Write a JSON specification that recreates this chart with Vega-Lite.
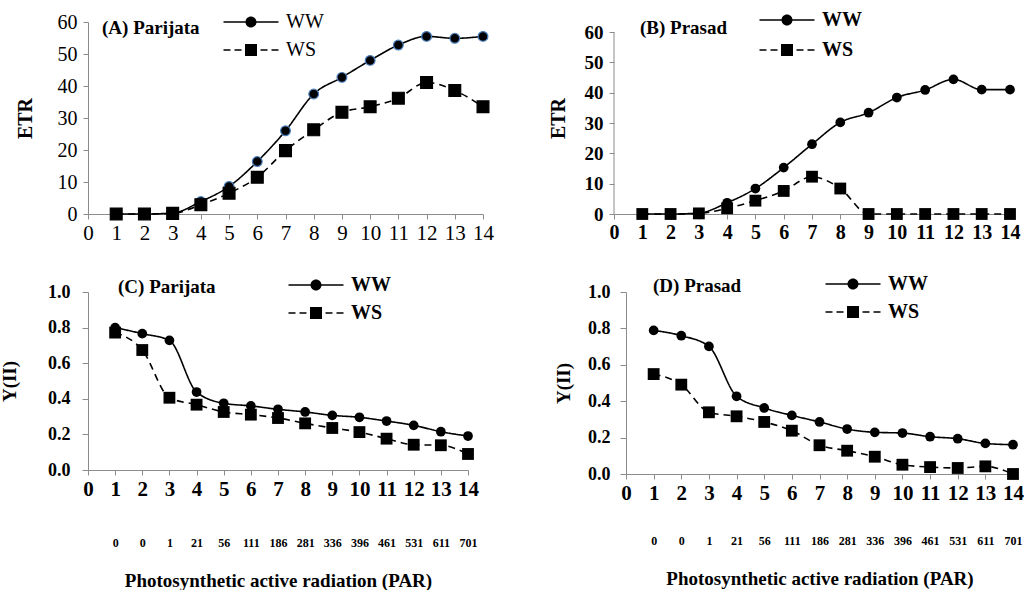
{
  "$schema": "https://vega.github.io/schema/vega-lite/v6.json",
  "background": "white",
  "padding": {"left": 0, "top": 10, "right": 0, "bottom": 0},
  "config": {
    "view": {"stroke": null},
    "font": "Liberation Serif",
    "axis": {"grid": false, "domainColor": "#8c8c8c", "tickColor": "#8c8c8c", "labelColor": "black", "titleColor": "black", "labelFont": "Liberation Serif", "titleFont": "Liberation Serif", "labelOverlap": false, "labelFlush": false, "labelBound": false},
    "legend": {"labelFont": "Liberation Serif", "labelColor": "black", "symbolSize": 100, "labelOffset": 25, "rowPadding": 8, "padding": 0, "symbolOpacity": 1, "symbolFillColor": "black", "symbolStrokeWidth": 0, "title": null},
    "title": {"font": "Liberation Serif", "color": "black"}
  },
  "spacing": 31,
  "resolve": {"scale": {"shape": "independent"}, "legend": {"shape": "independent"}},
  "vconcat": [
    {
      "spacing": 49,
      "resolve": {"scale": {"shape": "independent"}, "legend": {"shape": "independent"}},
      "hconcat": [
        {
          "width": 395, "height": 192,
          "title": {"text": "(A) Parijata", "anchor": "start", "orient": "top", "frame": "group", "offset": -26, "dx": 14, "fontSize": 19, "fontWeight": "bold"},
          "data": {"values": [
            {"s": "WW", "i": 1, "v": 0}, {"s": "WW", "i": 2, "v": 0}, {"s": "WW", "i": 3, "v": 0.3}, {"s": "WW", "i": 4, "v": 3.9}, {"s": "WW", "i": 5, "v": 8.6}, {"s": "WW", "i": 6, "v": 16.4}, {"s": "WW", "i": 7, "v": 26}, {"s": "WW", "i": 8, "v": 37.5}, {"s": "WW", "i": 9, "v": 42.7}, {"s": "WW", "i": 10, "v": 48}, {"s": "WW", "i": 11, "v": 52.8}, {"s": "WW", "i": 12, "v": 55.5}, {"s": "WW", "i": 13, "v": 54.9}, {"s": "WW", "i": 14, "v": 55.5},
            {"s": "WS", "i": 1, "v": 0}, {"s": "WS", "i": 2, "v": 0}, {"s": "WS", "i": 3, "v": 0.2}, {"s": "WS", "i": 4, "v": 2.9}, {"s": "WS", "i": 5, "v": 6.5}, {"s": "WS", "i": 6, "v": 11.5}, {"s": "WS", "i": 7, "v": 19.8}, {"s": "WS", "i": 8, "v": 26.3}, {"s": "WS", "i": 9, "v": 31.8}, {"s": "WS", "i": 10, "v": 33.5}, {"s": "WS", "i": 11, "v": 36.2}, {"s": "WS", "i": 12, "v": 41.1}, {"s": "WS", "i": 13, "v": 38.6}, {"s": "WS", "i": 14, "v": 33.5}
          ]},
          "resolve": {"axis": {"x": "independent", "y": "independent"}},
          "layer": [
            {
              "mark": {"type": "line", "color": "black", "strokeWidth": 1.6, "interpolate": "monotone"},
              "encoding": {
                "x": {"field": "i", "type": "quantitative", "scale": {"domain": [0, 14], "nice": false}, "axis": {"values": [0,1,2,3,4,5,6,7,8,9,10,11,12,13,14], "labelFontSize": 21, "labelFontWeight": "normal", "tickSize": 5, "labelPadding": 3, "title": null}},
                "y": {"field": "v", "type": "quantitative", "scale": {"domain": [0, 60], "nice": false}, "axis": {"values": [0,10,20,30,40,50,60], "labelFontSize": 20, "labelFontWeight": "normal", "tickSize": 5, "labelPadding": 6, "title": "ETR", "titleFontSize": 20, "titleFontWeight": "bold", "titlePadding": 22}},
                "detail": {"field": "s", "type": "nominal"},
                "strokeDash": {"condition": {"test": "datum.s === 'WS'", "value": [7, 5]}, "value": [1, 0]}
              }
            },
            {
              "mark": {"type": "point", "filled": true, "opacity": 1, "color": "black", "strokeWidth": 1.2},
              "encoding": {
                "x": {"field": "i", "type": "quantitative", "axis": null},
                "y": {"field": "v", "type": "quantitative", "axis": null},
                "shape": {"condition": {"test": "datum.s === 'WW'", "value": "circle"}, "value": "square"},
                "size": {"condition": {"test": "datum.s === 'WW'", "value": 95}, "value": 140},
                "stroke": {"condition": {"test": "datum.s === 'WW'", "value": "#4a7ebb"}, "value": "black"}
              }
            },
            {
              "mark": {"type": "point", "filled": true, "opacity": 0, "color": "black"},
              "encoding": {
                "x": {"field": "i", "type": "quantitative", "axis": null},
                "y": {"field": "v", "type": "quantitative", "axis": null},
                "shape": {"field": "s", "type": "nominal", "scale": {"domain": ["WW", "WS"], "range": ["M-5.5,-0.15 L5.5,-0.15 L5.5,0.15 L-5.5,0.15 Z M1.1,0 A1.1,1.1 0 1,1 -1.1,0 A1.1,1.1 0 1,1 1.1,0 Z", "M-5.5,-0.15 L-4.1,-0.15 L-4.1,0.15 L-5.5,0.15 Z M-3.3,-0.15 L-1.9,-0.15 L-1.9,0.15 L-3.3,0.15 Z M-1.2,-1.2 L1.2,-1.2 L1.2,1.2 L-1.2,1.2 Z M1.9,-0.15 L3.3,-0.15 L3.3,0.15 L1.9,0.15 Z M4.1,-0.15 L5.5,-0.15 L5.5,0.15 L4.1,0.15 Z"]},
                  "legend": {"orient": "none", "legendX": 153, "legendY": -10, "title": null, "labelFontSize": 20, "labelFontWeight": "normal", "symbolOpacity": 1}}
              }
            }
          ]
        },
        {
          "width": 396, "height": 192,
          "title": {"text": "(B) Prasad", "anchor": "start", "orient": "top", "frame": "group", "offset": -28, "dx": 26, "fontSize": 19, "fontWeight": "bold"},
          "data": {"values": [
            {"s": "WW", "i": 1, "v": 0}, {"s": "WW", "i": 2, "v": 0}, {"s": "WW", "i": 3, "v": 0.3}, {"s": "WW", "i": 4, "v": 3.7}, {"s": "WW", "i": 5, "v": 8.4}, {"s": "WW", "i": 6, "v": 15.3}, {"s": "WW", "i": 7, "v": 23}, {"s": "WW", "i": 8, "v": 30.2}, {"s": "WW", "i": 9, "v": 33.4}, {"s": "WW", "i": 10, "v": 38.4}, {"s": "WW", "i": 11, "v": 40.9}, {"s": "WW", "i": 12, "v": 44.4}, {"s": "WW", "i": 13, "v": 41}, {"s": "WW", "i": 14, "v": 41},
            {"s": "WS", "i": 1, "v": 0}, {"s": "WS", "i": 2, "v": 0}, {"s": "WS", "i": 3, "v": 0.2}, {"s": "WS", "i": 4, "v": 1.9}, {"s": "WS", "i": 5, "v": 4.4}, {"s": "WS", "i": 6, "v": 7.6}, {"s": "WS", "i": 7, "v": 12.3}, {"s": "WS", "i": 8, "v": 8.4}, {"s": "WS", "i": 9, "v": 0}, {"s": "WS", "i": 10, "v": 0}, {"s": "WS", "i": 11, "v": 0}, {"s": "WS", "i": 12, "v": 0}, {"s": "WS", "i": 13, "v": 0}, {"s": "WS", "i": 14, "v": 0}
          ]},
          "resolve": {"axis": {"x": "independent", "y": "independent"}},
          "layer": [
            {
              "mark": {"type": "line", "color": "black", "strokeWidth": 1.6, "interpolate": "monotone"},
              "encoding": {
                "x": {"field": "i", "type": "quantitative", "scale": {"domain": [0, 14], "nice": false}, "axis": {"values": [0,1,2,3,4,5,6,7,8,9,10,11,12,13,14], "labelFontSize": 20, "labelFontWeight": "bold", "tickSize": 5, "labelPadding": 3, "title": null}},
                "y": {"field": "v", "type": "quantitative", "scale": {"domain": [0, 63.3], "nice": false}, "axis": {"values": [0,10,20,30,40,50,60], "domain": false, "labelFontSize": 19, "labelFontWeight": "bold", "tickSize": 5, "labelPadding": 6, "title": "ETR", "titleFontSize": 20, "titleFontWeight": "bold", "titlePadding": 16}},
                "detail": {"field": "s", "type": "nominal"},
                "strokeDash": {"condition": {"test": "datum.s === 'WS'", "value": [7, 5]}, "value": [1, 0]}
              }
            },
            {
              "data": {"values": [{}]},
              "mark": {"type": "rule", "color": "#8c8c8c", "strokeWidth": 1},
              "encoding": {
                "x": {"datum": 0, "type": "quantitative", "axis": null},
                "y": {"datum": 0, "type": "quantitative", "axis": null},
                "y2": {"datum": 60}
              }
            },
            {
              "mark": {"type": "point", "filled": true, "opacity": 1, "color": "black"},
              "encoding": {
                "x": {"field": "i", "type": "quantitative", "axis": null},
                "y": {"field": "v", "type": "quantitative", "axis": null},
                "shape": {"condition": {"test": "datum.s === 'WW'", "value": "circle"}, "value": "square"},
                "size": {"condition": {"test": "datum.s === 'WW'", "value": 95}, "value": 140}
              }
            },
            {
              "mark": {"type": "point", "filled": true, "opacity": 0, "color": "black"},
              "encoding": {
                "x": {"field": "i", "type": "quantitative", "axis": null},
                "y": {"field": "v", "type": "quantitative", "axis": null},
                "shape": {"field": "s", "type": "nominal", "scale": {"domain": ["WW", "WS"], "range": ["M-5.5,-0.15 L5.5,-0.15 L5.5,0.15 L-5.5,0.15 Z M1.1,0 A1.1,1.1 0 1,1 -1.1,0 A1.1,1.1 0 1,1 1.1,0 Z", "M-5.5,-0.15 L-4.1,-0.15 L-4.1,0.15 L-5.5,0.15 Z M-3.3,-0.15 L-1.9,-0.15 L-1.9,0.15 L-3.3,0.15 Z M-1.2,-1.2 L1.2,-1.2 L1.2,1.2 L-1.2,1.2 Z M1.9,-0.15 L3.3,-0.15 L3.3,0.15 L1.9,0.15 Z M4.1,-0.15 L5.5,-0.15 L5.5,0.15 L4.1,0.15 Z"]},
                  "legend": {"orient": "none", "legendX": 163, "legendY": -12, "title": null, "labelFontSize": 20, "labelFontWeight": "bold", "rowPadding": 10, "symbolOpacity": 1}}
              }
            }
          ]
        }
      ]
    },
    {
      "spacing": 70,
      "resolve": {"scale": {"shape": "independent"}, "legend": {"shape": "independent"}},
      "hconcat": [
        {
          "width": 380, "height": 178,
          "title": {"text": "(C) Parijata", "anchor": "start", "orient": "top", "frame": "group", "offset": -22, "dx": 30, "fontSize": 19, "fontWeight": "bold"},
          "data": {"values": [
            {"s": "WW", "i": 1, "v": 0.8}, {"s": "WW", "i": 2, "v": 0.766}, {"s": "WW", "i": 3, "v": 0.728}, {"s": "WW", "i": 4, "v": 0.438}, {"s": "WW", "i": 5, "v": 0.375}, {"s": "WW", "i": 6, "v": 0.36}, {"s": "WW", "i": 7, "v": 0.341}, {"s": "WW", "i": 8, "v": 0.326}, {"s": "WW", "i": 9, "v": 0.307}, {"s": "WW", "i": 10, "v": 0.296}, {"s": "WW", "i": 11, "v": 0.275}, {"s": "WW", "i": 12, "v": 0.251}, {"s": "WW", "i": 13, "v": 0.215}, {"s": "WW", "i": 14, "v": 0.191},
            {"s": "WS", "i": 1, "v": 0.772}, {"s": "WS", "i": 2, "v": 0.674}, {"s": "WS", "i": 3, "v": 0.406}, {"s": "WS", "i": 4, "v": 0.367}, {"s": "WS", "i": 5, "v": 0.326}, {"s": "WS", "i": 6, "v": 0.311}, {"s": "WS", "i": 7, "v": 0.292}, {"s": "WS", "i": 8, "v": 0.262}, {"s": "WS", "i": 9, "v": 0.236}, {"s": "WS", "i": 10, "v": 0.213}, {"s": "WS", "i": 11, "v": 0.176}, {"s": "WS", "i": 12, "v": 0.142}, {"s": "WS", "i": 13, "v": 0.139}, {"s": "WS", "i": 14, "v": 0.09}
          ]},
          "resolve": {"axis": {"x": "independent", "y": "independent"}},
          "layer": [
            {
              "mark": {"type": "line", "color": "black", "strokeWidth": 1.6, "interpolate": "monotone"},
              "encoding": {
                "x": {"field": "i", "type": "quantitative", "scale": {"domain": [0, 14], "nice": false}, "axis": {"values": [0,1,2,3,4,5,6,7,8,9,10,11,12,13,14], "labelFontSize": 21, "labelFontWeight": "bold", "tickSize": 5, "labelPadding": 3, "title": null}},
                "y": {"field": "v", "type": "quantitative", "scale": {"domain": [0, 1], "nice": false}, "axis": {"values": [0,0.2,0.4,0.6,0.8,1.0], "format": ".1f", "labelFontSize": 18, "labelFontWeight": "bold", "tickSize": 6, "labelPadding": 12, "title": "Y(II)", "titleFontSize": 19, "titleFontWeight": "bold", "titlePadding": 28}},
                "detail": {"field": "s", "type": "nominal"},
                "strokeDash": {"condition": {"test": "datum.s === 'WS'", "value": [7, 5]}, "value": [1, 0]}
              }
            },
            {
              "mark": {"type": "point", "filled": true, "opacity": 1, "color": "black"},
              "encoding": {
                "x": {"field": "i", "type": "quantitative", "axis": {"values": [1,2,3,4,5,6,7,8,9,10,11,12,13,14], "orient": "bottom", "offset": 63, "domain": false, "ticks": false, "labelPadding": 4, "labelFontSize": 12, "labelFontWeight": "bold", "labelExpr": "['','0','0','1','21','56','111','186','281','336','396','461','531','611','701'][datum.value]", "title": "Photosynthetic active radiation (PAR)", "titleFontSize": 19, "titleFontWeight": "bold", "titlePadding": 23}},
                "y": {"field": "v", "type": "quantitative", "axis": null},
                "shape": {"condition": {"test": "datum.s === 'WW'", "value": "circle"}, "value": "square"},
                "size": {"condition": {"test": "datum.s === 'WW'", "value": 95}, "value": 140}
              }
            },
            {
              "mark": {"type": "point", "filled": true, "opacity": 0, "color": "black"},
              "encoding": {
                "x": {"field": "i", "type": "quantitative", "axis": null},
                "y": {"field": "v", "type": "quantitative", "axis": null},
                "shape": {"field": "s", "type": "nominal", "scale": {"domain": ["WW", "WS"], "range": ["M-5.5,-0.15 L5.5,-0.15 L5.5,0.15 L-5.5,0.15 Z M1.1,0 A1.1,1.1 0 1,1 -1.1,0 A1.1,1.1 0 1,1 1.1,0 Z", "M-5.5,-0.15 L-4.1,-0.15 L-4.1,0.15 L-5.5,0.15 Z M-3.3,-0.15 L-1.9,-0.15 L-1.9,0.15 L-3.3,0.15 Z M-1.2,-1.2 L1.2,-1.2 L1.2,1.2 L-1.2,1.2 Z M1.9,-0.15 L3.3,-0.15 L3.3,0.15 L1.9,0.15 Z M4.1,-0.15 L5.5,-0.15 L5.5,0.15 L4.1,0.15 Z"]},
                  "legend": {"orient": "none", "legendX": 218, "legendY": -17, "title": null, "labelFontSize": 20, "labelFontWeight": "bold", "symbolOpacity": 1}}
              }
            }
          ]
        },
        {
          "width": 387, "height": 182,
          "title": {"text": "(D) Prasad", "anchor": "start", "orient": "top", "frame": "group", "offset": -22, "dx": 27, "fontSize": 19, "fontWeight": "bold"},
          "data": {"values": [
            {"s": "WW", "i": 1, "v": 0.789}, {"s": "WW", "i": 2, "v": 0.76}, {"s": "WW", "i": 3, "v": 0.701}, {"s": "WW", "i": 4, "v": 0.427}, {"s": "WW", "i": 5, "v": 0.363}, {"s": "WW", "i": 6, "v": 0.322}, {"s": "WW", "i": 7, "v": 0.286}, {"s": "WW", "i": 8, "v": 0.247}, {"s": "WW", "i": 9, "v": 0.229}, {"s": "WW", "i": 10, "v": 0.225}, {"s": "WW", "i": 11, "v": 0.205}, {"s": "WW", "i": 12, "v": 0.194}, {"s": "WW", "i": 13, "v": 0.168}, {"s": "WW", "i": 14, "v": 0.161},
            {"s": "WS", "i": 1, "v": 0.549}, {"s": "WS", "i": 2, "v": 0.491}, {"s": "WS", "i": 3, "v": 0.339}, {"s": "WS", "i": 4, "v": 0.317}, {"s": "WS", "i": 5, "v": 0.286}, {"s": "WS", "i": 6, "v": 0.238}, {"s": "WS", "i": 7, "v": 0.158}, {"s": "WS", "i": 8, "v": 0.128}, {"s": "WS", "i": 9, "v": 0.095}, {"s": "WS", "i": 10, "v": 0.051}, {"s": "WS", "i": 11, "v": 0.038}, {"s": "WS", "i": 12, "v": 0.033}, {"s": "WS", "i": 13, "v": 0.042}, {"s": "WS", "i": 14, "v": 0.0}
          ]},
          "resolve": {"axis": {"x": "independent", "y": "independent"}},
          "layer": [
            {
              "mark": {"type": "line", "color": "black", "strokeWidth": 1.6, "interpolate": "monotone"},
              "encoding": {
                "x": {"field": "i", "type": "quantitative", "scale": {"domain": [0, 14], "nice": false}, "axis": {"values": [0,1,2,3,4,5,6,7,8,9,10,11,12,13,14], "labelFontSize": 21, "labelFontWeight": "bold", "tickSize": 5, "labelPadding": 3, "title": null}},
                "y": {"field": "v", "type": "quantitative", "scale": {"domain": [0, 1], "nice": false}, "axis": {"values": [0,0.2,0.4,0.6,0.8,1.0], "format": ".1f", "labelFontSize": 18, "labelFontWeight": "bold", "tickSize": 6, "labelPadding": 10, "title": "Y(II)", "titleFontSize": 19, "titleFontWeight": "bold", "titlePadding": 14}},
                "detail": {"field": "s", "type": "nominal"},
                "strokeDash": {"condition": {"test": "datum.s === 'WS'", "value": [7, 5]}, "value": [1, 0]}
              }
            },
            {
              "mark": {"type": "point", "filled": true, "opacity": 1, "color": "black"},
              "encoding": {
                "x": {"field": "i", "type": "quantitative", "axis": {"values": [1,2,3,4,5,6,7,8,9,10,11,12,13,14], "orient": "bottom", "offset": 57, "domain": false, "ticks": false, "labelPadding": 4, "labelFontSize": 12, "labelFontWeight": "bold", "labelExpr": "['','0','0','1','21','56','111','186','281','336','396','461','531','611','701'][datum.value]", "title": "Photosynthetic active radiation (PAR)", "titleFontSize": 19, "titleFontWeight": "bold", "titlePadding": 23}},
                "y": {"field": "v", "type": "quantitative", "axis": null},
                "shape": {"condition": {"test": "datum.s === 'WW'", "value": "circle"}, "value": "square"},
                "size": {"condition": {"test": "datum.s === 'WW'", "value": 95}, "value": 140}
              }
            },
            {
              "mark": {"type": "point", "filled": true, "opacity": 0, "color": "black"},
              "encoding": {
                "x": {"field": "i", "type": "quantitative", "axis": null},
                "y": {"field": "v", "type": "quantitative", "axis": null},
                "shape": {"field": "s", "type": "nominal", "scale": {"domain": ["WW", "WS"], "range": ["M-5.5,-0.15 L5.5,-0.15 L5.5,0.15 L-5.5,0.15 Z M1.1,0 A1.1,1.1 0 1,1 -1.1,0 A1.1,1.1 0 1,1 1.1,0 Z", "M-5.5,-0.15 L-4.1,-0.15 L-4.1,0.15 L-5.5,0.15 Z M-3.3,-0.15 L-1.9,-0.15 L-1.9,0.15 L-3.3,0.15 Z M-1.2,-1.2 L1.2,-1.2 L1.2,1.2 L-1.2,1.2 Z M1.9,-0.15 L3.3,-0.15 L3.3,0.15 L1.9,0.15 Z M4.1,-0.15 L5.5,-0.15 L5.5,0.15 L4.1,0.15 Z"]},
                  "legend": {"orient": "none", "legendX": 217, "legendY": -18, "title": null, "labelFontSize": 20, "labelFontWeight": "bold", "symbolOpacity": 1}}
              }
            }
          ]
        }
      ]
    }
  ]
}
